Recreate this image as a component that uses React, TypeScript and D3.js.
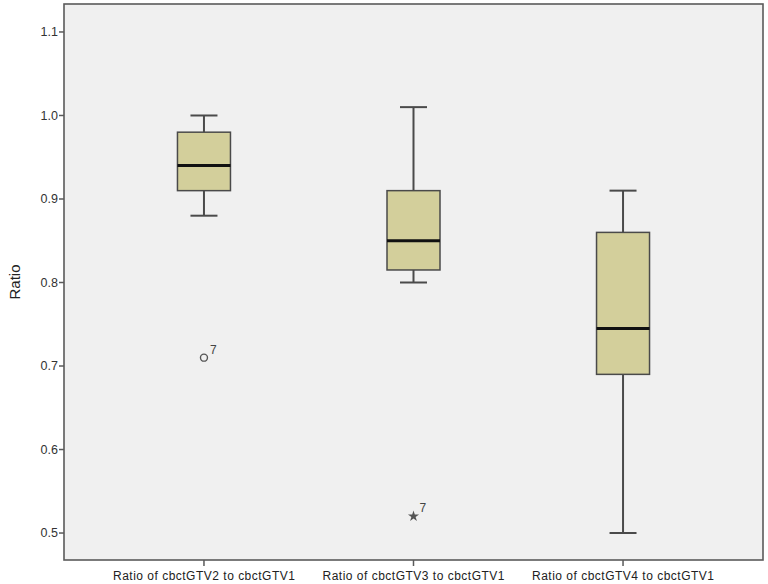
import React from "react";
import * as d3 from "d3";

const categories = [
  "Ratio of cbctGTV2 to cbctGTV1",
  "Ratio of cbctGTV3 to cbctGTV1",
  "Ratio of cbctGTV4 to cbctGTV1",
];
const whiskerLow = [0.88, 0.8, 0.5];
const q1 = [0.91, 0.815, 0.69];
const median = [0.94, 0.85, 0.745];
const q3 = [0.98, 0.91, 0.86];
const whiskerHigh = [1.0, 1.01, 0.91];
// outliers: category index, value, label, type
const outlierCat = [0, 1];
const outlierVal = [0.71, 0.52];
const outlierLabel = ["7", "7"];
const outlierType = ["circle", "star"];
const yTicks = [0.5, 0.6, 0.7, 0.8, 0.9, 1.0, 1.1];

export default function App() {
  const W = 768, H = 584;
  const left = 64, right = 763, top = 4, bottom = 560;
  const y = d3.scaleLinear().domain([0.4677, 1.1335]).range([bottom, top]);
  const x = d3.scalePoint<string>().domain(categories).range([left, right]).padding(0.668);
  const boxW = 53;
  const capW = 27;
  const stroke = "#4a4a4a";
  const star = d3.symbol().type(d3.symbolStar).size(38)();

  return (
    <svg width={W} height={H} style={{ position: "absolute", left: 0, top: 0, background: "#fff" }}
      fontFamily="'Liberation Sans', Arial, sans-serif">
      <rect x={left} y={top} width={right - left} height={bottom - top} fill="#f0f0f0" stroke="#5a5a5a" strokeWidth={1.6} />
      {yTicks.map((t) => (
        <g key={t}>
          <line x1={left - 5} x2={left} y1={y(t)} y2={y(t)} stroke="#5a5a5a" strokeWidth={1.5} />
          <text x={left - 6} y={y(t)} dy="0.35em" textAnchor="end" fontSize={12.5} fill="#333">
            {t.toFixed(1)}
          </text>
        </g>
      ))}
      <text transform={`translate(15,${(top + bottom) / 2}) rotate(-90)`} textAnchor="middle" dy="0.35em" fontSize={15} fill="#222">
        Ratio
      </text>
      {categories.map((c, i) => {
        const cx = x(c)!;
        return (
          <g key={c}>
            <line x1={cx} x2={cx} y1={bottom} y2={bottom + 6} stroke="#5a5a5a" strokeWidth={1.5} />
            <text x={cx} y={bottom + 20} textAnchor="middle" fontSize={12} fill="#222"
              textLength={182} lengthAdjust="spacing">
              {c}
            </text>
            <line x1={cx} x2={cx} y1={y(whiskerHigh[i])} y2={y(q3[i])} stroke={stroke} strokeWidth={2} />
            <line x1={cx} x2={cx} y1={y(q1[i])} y2={y(whiskerLow[i])} stroke={stroke} strokeWidth={2} />
            <line x1={cx - capW / 2} x2={cx + capW / 2} y1={y(whiskerHigh[i])} y2={y(whiskerHigh[i])} stroke={stroke} strokeWidth={2} />
            <line x1={cx - capW / 2} x2={cx + capW / 2} y1={y(whiskerLow[i])} y2={y(whiskerLow[i])} stroke={stroke} strokeWidth={2} />
            <rect x={cx - boxW / 2} y={y(q3[i])} width={boxW} height={y(q1[i]) - y(q3[i])} fill="#d3cf9b" stroke={stroke} strokeWidth={1.5} />
            <line x1={cx - boxW / 2} x2={cx + boxW / 2} y1={y(median[i])} y2={y(median[i])} stroke="#111" strokeWidth={3} />
          </g>
        );
      })}
      {outlierCat.map((ci, k) => {
        const cx = x(categories[ci])!;
        const cy = y(outlierVal[k]);
        return (
          <g key={k}>
            {outlierType[k] === "circle" ? (
              <circle cx={cx} cy={cy} r={3.5} fill="none" stroke="#555" strokeWidth={1.4} />
            ) : (
              <path d={star!} transform={`translate(${cx},${cy})`} fill="#555" />
            )}
            <text x={cx + 6} y={cy - 4} fontSize={12} fill="#444">
              {outlierLabel[k]}
            </text>
          </g>
        );
      })}
    </svg>
  );
}
